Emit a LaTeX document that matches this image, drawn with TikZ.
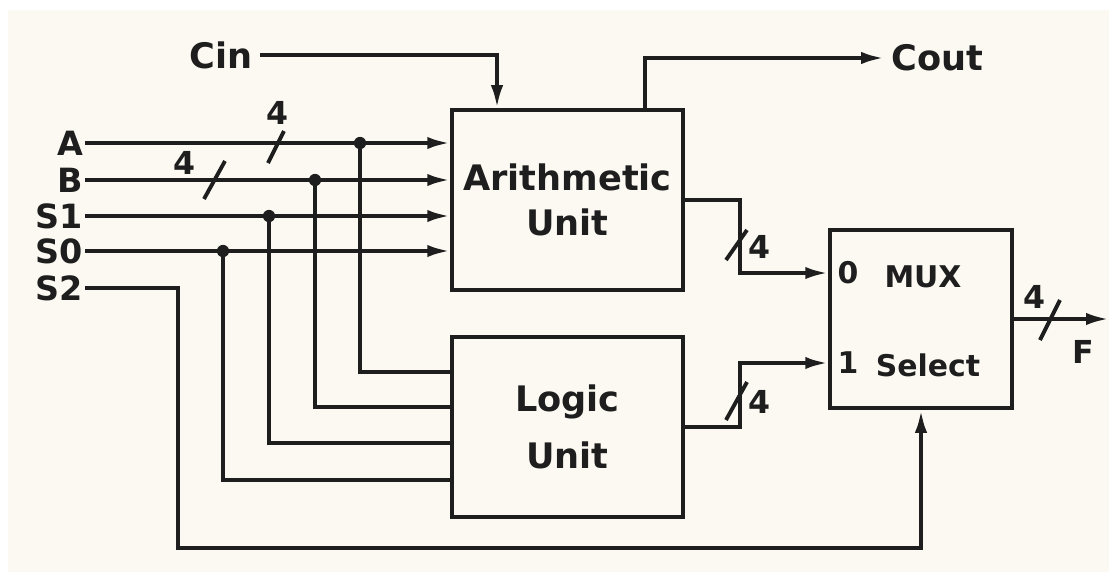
\documentclass[tikz,border=0pt]{standalone}
\usepackage{fontspec}
\setmainfont{DejaVu Sans}
\usetikzlibrary{arrows.meta,positioning}
\definecolor{paper}{RGB}{251,249,241}
\definecolor{ink}{RGB}{30,30,30}

\begin{document}
\begin{tikzpicture}[x=0.02cm, y=-0.02cm, line width=2.2pt, color=ink,
	unit/.style={draw, minimum width=4.62cm, minimum height=3.6cm, align=center, font=\bfseries\fontsize{20}{26}\selectfont},
	pin/.style={anchor=east, inner sep=0pt, text width=1.2cm, align=right, font=\bfseries\fontsize{19}{19}\selectfont},
	sig/.style={font=\bfseries\fontsize{20}{20}\selectfont},
	buslbl/.style={inner sep=0pt, font=\bfseries\fontsize{18}{18}\selectfont},
	muxlbl/.style={inner sep=0pt, font=\bfseries\fontsize{17}{17}\selectfont},
	dot/.style={circle, fill, inner sep=0pt, minimum size=7pt},
	arr/.style={-{Latex[length=13pt,width=7pt]}}]
	% Paper
	\fill[white] (0,0) rectangle (1109,572);
	\fill[paper] (8,10) rectangle (1109,572);
	\useasboundingbox (0,0) rectangle (1109,572);
	% Draw blocks
	\node[unit] (au) at (567.5,200) {Arithmetic\\Unit};
	\node[unit] (lu) at (567.5,427) {Logic\\[6pt]Unit};
	\node[draw, minimum width=3.64cm, minimum height=3.56cm] (mux) at (921,319) {};
	\node[muxlbl] (m0) at (848,273) {0};
	\node[muxlbl] (mx) at (923,277) {MUX};
	\node[muxlbl] (m1) at (848,363) {1};
	\node[muxlbl] (sel) at (928,365) {Select};
	% Inputs
	\node[pin] (A) at (85,143) {A};
	\node[pin] (B) at (85,180) {B};
	\node[pin] (S1) at (85,216) {S1};
	\node[pin] (S0) at (85,251) {S0};
	\node[pin] (S2) at (85,288) {S2};
	\foreach \n in {A,B,S1,S0}
		\draw[arr] (\n.east) -- (\n.east -| au.west);
	\foreach \n/\x/\y in {A/360/372, B/315/407, S1/269/443, S0/223/480} {
		\node[dot] (j\n) at (\n.east -| \x,0) {};
		\draw (j\n.center) |- (lu.west |- 0,\y);
	}
	\draw[arr] (S2.east) -- ++(93,0) -- ++(0,260) -| (mux.south);
	% Carry
	\node[sig] (cin) at (221,55) {Cin};
	\draw[arr] (cin.east) -| ([xshift=-1.41cm]au.north);
	\node[sig, anchor=west] (cout) at (884,58) {Cout};
	\draw[arr] ([xshift=1.55cm]au.north) |- (cout.west);
	% Outputs
	\draw[arr] (au.east) -- ++(55,0) |- ([yshift=0.92cm]mux.west);
	\draw[arr] (lu.east) -- ++(55,0) |- ([yshift=-0.88cm]mux.west);
	\draw[arr] (mux.east) -- ++(95,0);
	\node[sig, font=\bfseries\fontsize{18}{18}\selectfont] (F) at (1083,352) {F};
	% Bus widths
	\draw (268,163) -- (284,131);
	\node[buslbl] (wA) at (277,113) {4};
	\draw (204,199) -- (225,161);
	\node[buslbl] (wB) at (185,163) {4};
	\draw (726,260) -- (747,230);
	\node[buslbl] (wAU) at (759,247) {4};
	\draw (726,420) -- (747,382);
	\node[buslbl] (wLU) at (759,402) {4};
	\draw (1040,340) -- (1060,300);
	\node[buslbl] (wF) at (1034,297) {4};
\end{tikzpicture}
\end{document}
